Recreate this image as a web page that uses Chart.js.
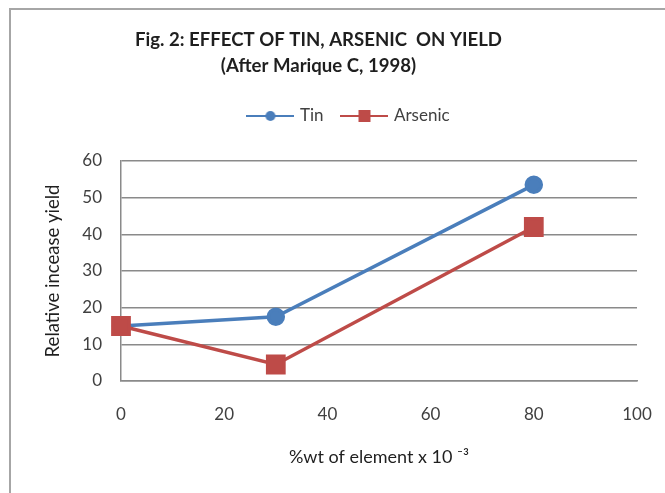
<!DOCTYPE html>
<html>
<head>
<meta charset="utf-8">
<script src="https://cdn.jsdelivr.net/npm/chart.js@4/dist/chart.umd.min.js"></script>
<style>
  html,body{margin:0;padding:0;background:#fff;}
  #frame{position:absolute;left:9px;top:8px;width:700px;height:520px;border-left:2px solid #a6a6a6;border-top:2px solid #a6a6a6;}
  #wrap{position:absolute;left:0;top:0;width:665px;height:493px;}
</style>
</head>
<body>
<div id="frame"></div>
<div id="wrap"><canvas id="c"></canvas></div>
<script>
'use strict';
/* Fig. 2 — effect of tin, arsenic on yield */
const xValues = [0, 30, 80];
const tinValues = [15, 17.5, 53.5];
const arsenicValues = [15, 4.5, 42];
const xTicks = [0, 20, 40, 60, 80, 100];
const yTicks = [0, 10, 20, 30, 40, 50, 60];

const CC = { blue:'#4a7ebb', red:'#be4b48', grid:'#8a8a8a', text:'#404040', title:'#1f1f1f' };
const FONT = 'Lato, "Open Sans", sans-serif';

function legendIcon(color, style){
  const cv=document.createElement('canvas'); cv.width=48; cv.height=14;
  const g=cv.getContext('2d');
  g.strokeStyle=color; g.lineWidth=2;
  g.beginPath(); g.moveTo(0,7); g.lineTo(48,7); g.stroke();
  g.fillStyle=color;
  if(style==='circle'){ g.beginPath(); g.arc(24,7,5,0,Math.PI*2); g.fill(); }
  else g.fillRect(18,1,12,12);
  return cv;
}
const icons=[legendIcon(CC.blue,'circle'), legendIcon(CC.red,'rect')];

const pts=(ys)=>xValues.map((x,i)=>({x, y:ys[i]}));

// legend sits a little off-centre and higher than chart.js would put it
const shiftLegend={
  id:'shiftLegend',
  afterLayout(chart){
    const l=chart.legend; if(!l) return;
    l.left+=31; l.right+=31; l.top-=26.5; l.bottom-=26.5;
  }
};

new Chart(document.getElementById('c'),{
  type:'scatter',
  data:{datasets:[
    {label:'Tin',data:pts(tinValues),showLine:true,borderColor:CC.blue,backgroundColor:CC.blue,borderWidth:3.5,
     pointStyle:'circle',pointRadius:7.5,pointHoverRadius:7.5,tension:0,clip:false,order:1},
    {label:'Arsenic',data:pts(arsenicValues),showLine:true,borderColor:CC.red,backgroundColor:CC.red,borderWidth:3.5,
     pointStyle:'rect',pointRadius:11.5,pointHoverRadius:11.5,tension:0,clip:false,order:0}
  ]},
  options:{
    responsive:true, maintainAspectRatio:false, animation:false,
    layout:{padding:{left:0,right:28,top:0,bottom:0}},
    plugins:{
      title:{display:true,text:['Fig. 2: EFFECT OF TIN, ARSENIC  ON YIELD','(After Marique C, 1998)'],
        color:CC.title,font:{family:FONT,size:18.6,weight:'bold',lineHeight:26/18.6},padding:{top:27,bottom:35}},
      legend:{display:true,position:'top',
        labels:{usePointStyle:true,pointStyleWidth:42,padding:20,color:CC.text,font:{family:FONT,size:17},
          generateLabels:(chart)=>chart.data.datasets.map((d,i)=>({text:d.label,pointStyle:icons[i],fontColor:CC.text,
            strokeStyle:'transparent',fillStyle:'transparent',lineWidth:0,datasetIndex:i,hidden:false}))}},
      tooltip:{enabled:false}
    },
    scales:{
      x:{type:'linear',min:0,max:100,
        afterBuildTicks:(s)=>{s.ticks=xTicks.map(v=>({value:v}));},
        afterFit:(s)=>{s.height=112; s.paddingLeft=0; s.paddingRight=0;},
        grid:{display:false,drawTicks:false},border:{display:true,color:CC.grid,width:1.5},
        ticks:{color:CC.text,font:{family:FONT,size:17},padding:23,maxRotation:0},
        title:{display:true,text:'%wt of element x 10 \u207B\u00B3',color:CC.title,font:{family:FONT,size:18},padding:{top:4,bottom:25}}},
      y:{type:'linear',min:0,max:60,
        afterBuildTicks:(s)=>{s.ticks=yTicks.map(v=>({value:v}));},
        afterFit:(s)=>{s.width=121;},
        grid:{color:CC.grid,lineWidth:1.5,drawTicks:false},border:{display:true,color:CC.grid,width:1.5},
        ticks:{color:CC.text,font:{family:FONT,size:17},padding:19},
        title:{display:true,text:'Relative incease yield',color:CC.title,font:{family:FONT,size:18.5},padding:{top:42,bottom:0}}}
    }
  },
  plugins:[shiftLegend]
});
</script>
</body>
</html>
